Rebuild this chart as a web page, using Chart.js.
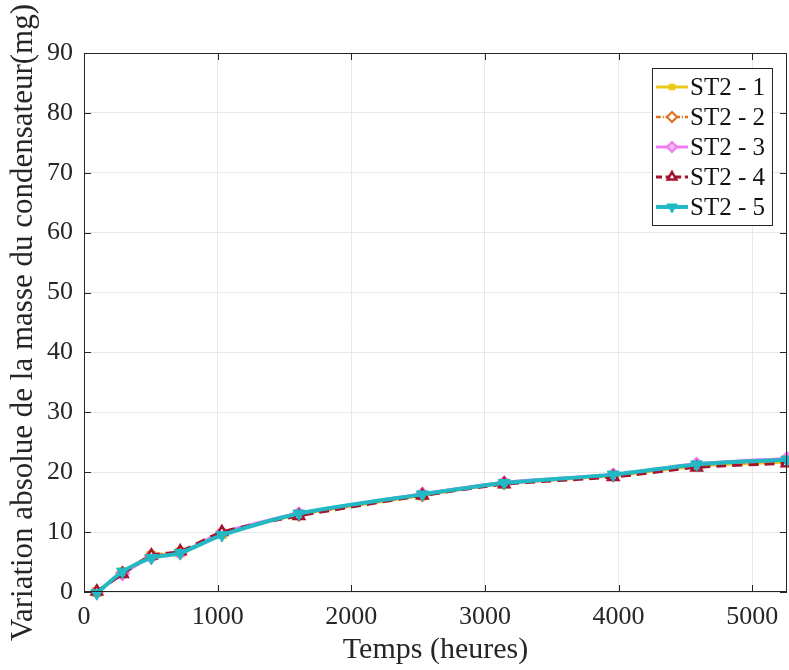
<!DOCTYPE html>
<html>
<head>
<meta charset="utf-8">
<script src="https://cdn.jsdelivr.net/npm/chart.js@4.4.1/dist/chart.umd.min.js"></script>
<style>
  html, body { margin: 0; padding: 0; background: #ffffff; }
  #wrap { width: 789px; height: 670px; position: relative; }
</style>
</head>
<body>
<div id="wrap"><canvas id="c" width="789" height="670"></canvas></div>
<script>
// ---- data ----
const hours = [96, 288, 504, 720, 1032, 1608, 2532, 3144, 3960, 4584, 5260];
const st2_1 = [0.0, 3.2, 6.0, 6.6, 9.7, 12.9, 16.1, 18.1, 19.4, 21.0, 21.7];
const st2_2 = [0.0, 3.2, 6.1, 6.7, 9.8, 12.9, 16.2, 18.2, 19.5, 21.2, 22.0];
const st2_3 = [0.0, 3.0, 5.8, 6.5, 9.9, 13.1, 16.4, 18.3, 19.6, 21.4, 22.3];
const st2_4 = [0.1, 3.0, 6.1, 6.8, 10.0, 12.7, 16.1, 18.0, 19.2, 20.8, 21.5];
const st2_5 = [-0.2, 3.4, 5.7, 6.5, 9.5, 13.1, 16.3, 18.2, 19.6, 21.3, 22.1];
const seriesNames = ['ST2 - 1', 'ST2 - 2', 'ST2 - 3', 'ST2 - 4', 'ST2 - 5'];
const yTicks = [0, 10, 20, 30, 40, 50, 60, 70, 80, 90];
const xTicks = [0, 1000, 2000, 3000, 4000, 5000];
const xTitle = 'Temps (heures)';
const yTitle = 'Variation absolue de la masse du condensateur(mg)';

const FONT = "'Liberation Serif', 'Times New Roman', serif";
const TXT = '#262626';

function pts(vals) { return hours.map((h, i) => ({ x: h, y: vals[i] })); }

const datasets = [
  { label: seriesNames[0], data: pts(st2_1), borderColor: '#EDC81A', backgroundColor: '#EDC81A',
    borderWidth: 3, pointStyle: 'rect', pointRadius: 5, pointBackgroundColor: '#EDC81A', order: 5 },
  { label: seriesNames[1], data: pts(st2_2), borderColor: '#E0701E', backgroundColor: '#ffffff',
    borderWidth: 2.5, borderDash: [8, 3, 2, 3], pointStyle: 'rectRot', pointRadius: 6, pointBorderWidth: 2,
    pointBackgroundColor: '#ffffff', order: 4 },
  { label: seriesNames[2], data: pts(st2_3), borderColor: '#F07AF0', backgroundColor: '#F7B5F7',
    borderWidth: 3, pointStyle: 'rectRot', pointRadius: 6, pointBorderWidth: 2,
    pointBackgroundColor: '#F7B5F7', order: 3 },
  { label: seriesNames[3], data: pts(st2_4), borderColor: '#A2142F', backgroundColor: '#ffffff',
    borderWidth: 3, borderDash: [10, 6], pointStyle: 'triangle', pointRadius: 6, pointBorderWidth: 2.5,
    pointBackgroundColor: '#ffffff', order: 2 },
  { label: seriesNames[4], data: pts(st2_5), borderColor: '#22B8C4', backgroundColor: '#22B8C4',
    borderWidth: 4, pointStyle: 'triangle', pointRotation: 180, pointRadius: 7, pointBorderWidth: 1,
    pointBackgroundColor: '#22B8C4', order: 1 }
];
datasets.forEach(d => { d.fill = false; d.tension = 0.25; d.clip = false; d.pointHoverRadius = d.pointRadius; });

// Frame, inner ticks and MATLAB-style legend
const framePlugin = {
  id: 'frame',
  afterDraw(chart) {
    const { ctx, chartArea: a, scales } = chart;
    ctx.save();
    ctx.strokeStyle = TXT;
    ctx.lineWidth = 1;
    ctx.strokeRect(a.left + 0.5, a.top + 0.5, a.right - a.left - 1, a.bottom - a.top - 1);
    const tl = 7;
    ctx.beginPath();
    scales.x.ticks.forEach(t => {
      const px = Math.round(scales.x.getPixelForValue(t.value)) + 0.5;
      ctx.moveTo(px, a.bottom); ctx.lineTo(px, a.bottom - tl);
      ctx.moveTo(px, a.top); ctx.lineTo(px, a.top + tl);
    });
    scales.y.ticks.forEach(t => {
      const py = Math.round(scales.y.getPixelForValue(t.value)) + 0.5;
      ctx.moveTo(a.left, py); ctx.lineTo(a.left + tl, py);
      ctx.moveTo(a.right, py); ctx.lineTo(a.right - tl, py);
    });
    ctx.stroke();

    // legend
    const bw = 120, rowH = 30;
    const bx = a.right - 15 - bw, by = a.top + 15;
    const bh = rowH * datasets.length + 7;
    ctx.fillStyle = '#ffffff';
    ctx.fillRect(bx, by, bw, bh);
    ctx.strokeStyle = '#262626';
    ctx.lineWidth = 1;
    ctx.strokeRect(bx + 0.5, by + 0.5, bw, bh);
    chart.data.datasets.forEach((d, i) => {
      const cy = by + 19 + i * rowH;
      const x0 = bx + 4, x1 = bx + 36, mx = (x0 + x1) / 2;
      ctx.save();
      ctx.strokeStyle = d.borderColor;
      ctx.lineWidth = d.borderWidth;
      ctx.setLineDash(d.borderDash ? d.borderDash.map(v => v * 0.6) : []);
      ctx.beginPath(); ctx.moveTo(x0, cy); ctx.lineTo(x1, cy); ctx.stroke();
      ctx.setLineDash([]);
      ctx.fillStyle = d.pointBackgroundColor;
      ctx.strokeStyle = d.borderColor;
      ctx.lineWidth = d.pointBorderWidth || 1;
      Chart.helpers.drawPoint(ctx, { pointStyle: d.pointStyle, rotation: d.pointRotation || 0,
        radius: d.pointRadius - 1, borderWidth: d.pointBorderWidth || 1 }, mx, cy);
      ctx.restore();
      ctx.fillStyle = '#111111';
      ctx.font = '25px ' + FONT;
      ctx.textBaseline = 'middle';
      ctx.textAlign = 'left';
      ctx.fillText(d.label, bx + 38, cy + 1);
    });
    ctx.restore();
  }
};

new Chart(document.getElementById('c'), {
  type: 'line',
  data: { datasets },
  plugins: [framePlugin],
  options: {
    responsive: false,
    animation: false,
    devicePixelRatio: 1,
    layout: { autoPadding: false, padding: { top: 53, right: 2, left: 0, bottom: 0 } },
    plugins: { legend: { display: false }, tooltip: { enabled: false } },
    scales: {
      x: {
        type: 'linear', min: 0, max: 5260,
        afterBuildTicks: s => { s.ticks = xTicks.map(v => ({ value: v })); },
        afterFit: s => { s.height = 78; s.paddingLeft = 0; s.paddingRight = 0; },
        grid: { color: '#e8e8e8', drawTicks: false },
        border: { display: false },
        ticks: { color: TXT, font: { family: FONT, size: 26 }, padding: 10, maxRotation: 0,
                 callback: v => String(v) },
        title: { display: true, text: xTitle, color: TXT, font: { family: FONT, size: 30 }, padding: { top: 0, bottom: 2 } }
      },
      y: {
        type: 'linear', min: 0, max: 90,
        afterBuildTicks: s => { s.ticks = yTicks.map(v => ({ value: v })); },
        afterFit: s => { s.width = 84; s.paddingTop = 0; s.paddingBottom = 0; },
        grid: { color: '#e8e8e8', drawTicks: false },
        border: { display: false },
        ticks: { color: TXT, font: { family: FONT, size: 26 }, padding: 11, callback: v => String(v) },
        title: { display: true, text: yTitle, color: TXT, font: { family: FONT, size: 31 }, padding: { top: 5, bottom: 0 } }
      }
    }
  }
});
</script>
</body>
</html>
